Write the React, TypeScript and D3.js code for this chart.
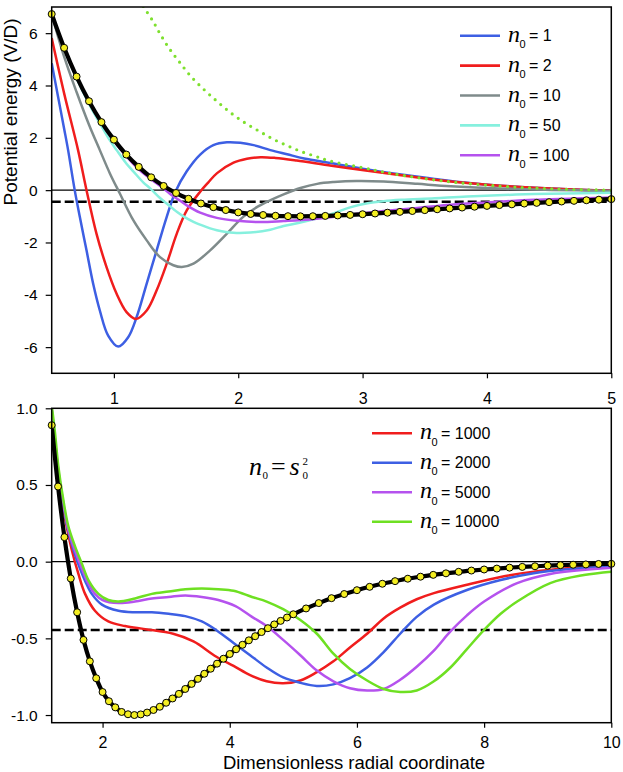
import React, { useEffect, useRef } from "react";
import * as d3 from "d3";

type Pt = [number, number];

const SANS = "Arial, 'Liberation Sans', Helvetica, sans-serif";
const SERIF = "'Times New Roman', 'Liberation Serif', serif";

// black reference curve with the yellow markers (shared by both panels)
const refCurve: Pt[] = [
  [0.5, 6.73], [0.6, 5.44], [0.7, 4.34], [0.8, 3.4], [0.9, 2.6], [1.0, 1.93],
  [1.1, 1.36], [1.2, 0.89], [1.3, 0.49], [1.4, 0.16], [1.5, -0.11], [1.6, -0.33],
  [1.7, -0.51], [1.8, -0.65], [1.9, -0.76], [2.0, -0.85], [2.1, -0.91], [2.2, -0.95],
  [2.3, -0.98], [2.4, -0.995], [2.5, -1.0], [2.6, -0.996], [2.7, -0.984], [2.8, -0.967],
  [2.9, -0.946], [3.0, -0.92], [3.1, -0.892], [3.2, -0.862], [3.3, -0.83], [3.4, -0.797],
  [3.5, -0.764], [3.6, -0.731], [3.7, -0.698], [3.8, -0.665], [3.9, -0.633], [4.0, -0.602],
  [4.1, -0.571], [4.2, -0.542], [4.3, -0.513], [4.4, -0.486], [4.5, -0.459], [4.6, -0.434],
  [4.7, -0.409], [4.8, -0.386], [4.9, -0.364], [5.0, -0.343], [5.2, -0.305], [5.4, -0.27],
  [5.6, -0.238], [5.8, -0.211], [6.0, -0.186], [6.2, -0.164], [6.4, -0.144], [6.6, -0.127],
  [6.8, -0.111], [7.0, -0.098], [7.2, -0.086], [7.4, -0.076], [7.6, -0.066], [7.8, -0.058],
  [8.0, -0.051], [8.2, -0.045], [8.4, -0.039], [8.6, -0.034], [8.8, -0.03], [9.0, -0.026],
  [9.2, -0.023], [9.4, -0.02], [9.6, -0.018], [9.8, -0.015], [10.0, -0.014],
];

const dashedLevel = -0.445;

// upper panel
const upperN0 = ["1", "2", "10", "50", "100"];
const upperColors = ["#3d5fe3", "#f01d1d", "#7f8b8b", "#86f0de", "#b552ee"];

const upperN1: Pt[] = [
  [0.5, 4.85], [0.55, 3.6], [0.6, 2.35], [0.632, 1.53], [0.685, 0.0], [0.726, -1.02],
  [0.78, -2.3], [0.833, -3.57], [0.887, -4.6], [0.954, -5.56], [1.035, -5.98], [1.115, -5.62],
  [1.183, -4.85], [1.264, -3.57], [1.344, -2.3], [1.425, -1.02], [1.495, -0.06], [1.586, 0.72],
  [1.694, 1.36], [1.8, 1.72], [1.909, 1.83], [2.016, 1.81], [2.124, 1.72], [2.258, 1.53],
  [2.393, 1.37], [2.53, 1.21], [2.75, 1.03], [3.0, 0.82], [3.31, 0.6], [3.58, 0.43],
  [3.84, 0.28], [4.11, 0.17], [4.38, 0.09], [4.65, 0.03], [5.0, -0.02],
];
const upperN2: Pt[] = [
  [0.5, 5.81], [0.6, 3.7], [0.712, 1.53], [0.78, 0.0], [0.86, -1.66], [0.941, -2.94],
  [1.022, -3.96], [1.102, -4.66], [1.177, -4.92], [1.264, -4.6], [1.344, -3.83], [1.425, -2.81],
  [1.506, -1.66], [1.586, -0.77], [1.694, -0.06], [1.76, 0.3], [1.83, 0.65], [1.962, 1.05],
  [2.07, 1.2], [2.18, 1.26], [2.3, 1.23], [2.47, 1.13], [2.75, 0.93], [3.04, 0.74],
  [3.31, 0.57], [3.58, 0.4], [3.84, 0.27], [4.11, 0.17], [4.38, 0.09], [4.65, 0.03], [5.0, -0.02],
];
const upperN10: Pt[] = [
  [0.5, 6.72], [0.6, 5.1], [0.7, 3.75], [0.8, 2.5], [0.887, 1.53], [0.968, 0.64],
  [1.048, -0.13], [1.156, -1.15], [1.264, -1.92], [1.371, -2.56], [1.478, -2.87], [1.546, -2.94],
  [1.64, -2.81], [1.774, -2.3], [1.909, -1.66], [2.04, -1.02], [2.16, -0.62], [2.26, -0.38],
  [2.365, -0.16], [2.5, 0.08], [2.635, 0.24], [2.77, 0.31], [2.95, 0.35], [3.17, 0.33],
  [3.44, 0.24], [3.71, 0.15], [4.11, 0.06], [4.52, 0.01], [5.0, -0.03],
];
const upperN50: Pt[] = [
  [0.5, 6.73], [0.6, 5.4], [0.7, 4.27], [0.8, 3.3], [0.9, 2.45], [0.968, 1.9],
  [1.022, 1.53], [1.1, 1.02], [1.156, 0.72], [1.236, 0.3], [1.29, 0.08], [1.371, -0.3],
  [1.425, -0.51], [1.506, -0.83], [1.559, -1.0], [1.64, -1.21], [1.694, -1.32], [1.774, -1.46],
  [1.828, -1.53], [1.962, -1.63], [2.097, -1.62], [2.258, -1.51], [2.365, -1.37], [2.5, -1.24],
  [2.635, -1.08], [2.77, -0.88], [2.9, -0.66], [3.04, -0.5], [3.17, -0.42], [3.31, -0.37],
  [3.58, -0.31], [3.84, -0.24], [4.38, -0.15], [5.0, -0.1],
];
const upperN100: Pt[] = [
  [0.5, 6.73], [0.6, 5.43], [0.7, 4.32], [0.8, 3.37], [0.9, 2.56], [1.0, 1.88],
  [1.1, 1.3], [1.2, 0.8], [1.3, 0.42], [1.4, 0.06], [1.45, -0.14], [1.5, -0.3],
  [1.586, -0.58], [1.694, -0.86], [1.828, -1.06], [1.99, -1.17], [2.177, -1.22], [2.365, -1.18],
  [2.58, -1.12], [2.74, -1.04], [2.9, -0.94], [3.17, -0.8], [3.44, -0.68], [3.71, -0.56],
  [4.0, -0.47], [4.38, -0.37], [5.0, -0.28],
];
// green dotted curve
const upperDotted: Pt[] = [
  [1.236, 7.02], [1.309, 6.5], [1.371, 5.98], [1.446, 5.41], [1.527, 4.9], [1.621, 4.34],
  [1.728, 3.83], [1.833, 3.38], [1.944, 2.94], [2.062, 2.55], [2.177, 2.23], [2.285, 1.94],
  [2.4, 1.69], [2.51, 1.47], [2.63, 1.28], [2.74, 1.11], [3.0, 0.86], [3.17, 0.69],
  [3.44, 0.48], [3.76, 0.29], [4.11, 0.15], [4.38, 0.08], [4.65, 0.03], [5.0, 0.0],
];

// lower panel
const lowerN0 = ["1000", "2000", "5000", "10000"];
const lowerColors = ["#f01d1d", "#3d5fe3", "#b552ee", "#6ee022"];

const lowerN1000: Pt[] = [
  [1.2, 0.98], [1.25, 0.78], [1.3, 0.58], [1.36, 0.4], [1.44, 0.22], [1.52, 0.07],
  [1.62, -0.08], [1.725, -0.21], [1.88, -0.32], [2.09, -0.39], [2.355, -0.42], [2.67, -0.44],
  [3.11, -0.47], [3.43, -0.52], [3.79, -0.62], [4.06, -0.68], [4.32, -0.74], [4.58, -0.78],
  [4.84, -0.793], [5.11, -0.775], [5.37, -0.72], [5.63, -0.65], [5.89, -0.56], [6.16, -0.47],
  [6.42, -0.37], [6.68, -0.3], [6.94, -0.245], [7.21, -0.205], [7.73, -0.15], [8.26, -0.1],
  [8.78, -0.065], [9.31, -0.043], [10.0, -0.026],
];
const lowerN2000: Pt[] = [
  [1.2, 0.99], [1.25, 0.79], [1.3, 0.6], [1.37, 0.4], [1.45, 0.22], [1.54, 0.08],
  [1.64, -0.04], [1.73, -0.13], [1.83, -0.21], [1.99, -0.28], [2.25, -0.32], [2.51, -0.33],
  [2.775, -0.33], [3.04, -0.34], [3.3, -0.355], [3.56, -0.39], [3.8, -0.45], [4.06, -0.53],
  [4.32, -0.61], [4.58, -0.69], [4.84, -0.755], [5.11, -0.79], [5.37, -0.81], [5.63, -0.8],
  [5.89, -0.76], [6.16, -0.69], [6.42, -0.59], [6.68, -0.47], [6.94, -0.36], [7.21, -0.28],
  [7.73, -0.185], [8.26, -0.12], [8.78, -0.076], [9.31, -0.05], [10.0, -0.028],
];
const lowerN5000: Pt[] = [
  [1.2, 1.0], [1.25, 0.8], [1.3, 0.61], [1.375, 0.4], [1.455, 0.22], [1.55, 0.09],
  [1.66, -0.03], [1.76, -0.13], [1.88, -0.21], [2.0, -0.25], [2.25, -0.27], [2.51, -0.26],
  [2.775, -0.24], [3.04, -0.23], [3.3, -0.22], [3.56, -0.23], [3.82, -0.25], [4.09, -0.29],
  [4.35, -0.36], [4.58, -0.42], [4.84, -0.51], [5.11, -0.61], [5.37, -0.71], [5.63, -0.78],
  [5.89, -0.825], [6.16, -0.84], [6.42, -0.83], [6.68, -0.77], [6.94, -0.685], [7.21, -0.58],
  [7.47, -0.455], [7.73, -0.35], [8.0, -0.26], [8.52, -0.14], [9.04, -0.08], [10.0, -0.04],
];
const lowerN10000: Pt[] = [
  [1.2, 1.02], [1.252, 0.84], [1.305, 0.62], [1.384, 0.4], [1.462, 0.23], [1.567, 0.1],
  [1.672, -0.01], [1.777, -0.12], [1.935, -0.21], [2.09, -0.25], [2.25, -0.26], [2.51, -0.24],
  [2.775, -0.21], [3.04, -0.195], [3.3, -0.18], [3.56, -0.175], [3.82, -0.18], [4.06, -0.19],
  [4.35, -0.23], [4.58, -0.26], [4.84, -0.31], [5.11, -0.38], [5.37, -0.47], [5.63, -0.6],
  [5.89, -0.7], [6.16, -0.775], [6.42, -0.83], [6.68, -0.85], [6.94, -0.84], [7.21, -0.78],
  [7.47, -0.69], [7.73, -0.57], [8.0, -0.445], [8.26, -0.34], [8.52, -0.26], [9.04, -0.14],
  [9.57, -0.087], [10.0, -0.065],
];

const upperXTicks = [1, 2, 3, 4, 5];
const upperYTicks = [-6, -4, -2, 0, 2, 4, 6];
const lowerXTicks = [2, 4, 6, 8, 10];
const lowerYTicks = [-1, -0.5, 0, 0.5, 1];

const W = 623;
const H = 772;

const legendEntry = (g: any, x0: number, y0: number, color: string, value: string) => {
  g.append("line")
    .attr("x1", x0)
    .attr("x2", x0 + 40)
    .attr("y1", y0)
    .attr("y2", y0)
    .attr("stroke", color)
    .attr("stroke-width", 2.6);
  const tx = x0 + 48;
  g.append("text")
    .attr("x", tx)
    .attr("y", y0 + 6)
    .attr("font-family", SERIF)
    .attr("font-style", "italic")
    .attr("font-size", 24)
    .text("n");
  g.append("text")
    .attr("x", tx + 11.5)
    .attr("y", y0 + 12.5)
    .attr("font-family", SANS)
    .attr("font-size", 11)
    .text("0");
  g.append("text")
    .attr("x", tx + 21)
    .attr("y", y0 + 5.5)
    .attr("font-family", SANS)
    .attr("font-size", 16)
    .text(`= ${value}`);
};

const drawPanel = (svg: any, p: any) => {
  const { x, y, id } = p;
  const [x0, x1] = x.range();
  const [yb, yt] = y.range();

  svg
    .append("clipPath")
    .attr("id", id)
    .append("rect")
    .attr("x", x0)
    .attr("y", yt)
    .attr("width", x1 - x0)
    .attr("height", yb - yt);

  const plot = svg.append("g").attr("clip-path", `url(#${id})`);

  // zero line + dashed level
  plot
    .append("line")
    .attr("x1", x0)
    .attr("x2", x1)
    .attr("y1", y(0))
    .attr("y2", y(0))
    .attr("stroke", "#000")
    .attr("stroke-width", 1.2);
  plot
    .append("line")
    .attr("x1", x0)
    .attr("x2", x1)
    .attr("y1", y(dashedLevel))
    .attr("y2", y(dashedLevel))
    .attr("stroke", "#000")
    .attr("stroke-width", 2.5)
    .attr("stroke-dasharray", "9 4");

  const line = d3
    .line<Pt>()
    .x((d) => x(d[0]))
    .y((d) => y(d[1]))
    .curve(d3.curveCatmullRom.alpha(0.5));

  p.series.forEach((s: Pt[], i: number) => {
    plot
      .append("path")
      .datum(s)
      .attr("d", line)
      .attr("fill", "none")
      .attr("stroke", p.colors[i])
      .attr("stroke-width", 2.5);
  });

  if (p.dotted) {
    plot
      .append("path")
      .datum(p.dotted)
      .attr("d", line)
      .attr("fill", "none")
      .attr("stroke", "#7ee02e")
      .attr("stroke-width", 3.2)
      .attr("stroke-linecap", "round")
      .attr("stroke-dasharray", "0 7.4");
  }

  const [d0, d1] = x.domain();
  const ref = refCurve.filter((d) => d[0] >= d0 - 1e-9 && d[0] <= d1 + 1e-9);
  plot
    .append("path")
    .datum(ref)
    .attr("d", line)
    .attr("fill", "none")
    .attr("stroke", "#000")
    .attr("stroke-width", 4.2);

  svg
    .append("g")
    .selectAll("circle")
    .data(ref)
    .join("circle")
    .attr("cx", (d: Pt) => x(d[0]))
    .attr("cy", (d: Pt) => y(d[1]))
    .attr("r", 3.5)
    .attr("fill", "#f4ee22")
    .attr("stroke", "#000")
    .attr("stroke-width", 1);

  // frame
  svg
    .append("rect")
    .attr("x", x0)
    .attr("y", yt)
    .attr("width", x1 - x0)
    .attr("height", yb - yt)
    .attr("fill", "none")
    .attr("stroke", "#000")
    .attr("stroke-width", 1.5);

  svg
    .append("g")
    .attr("transform", `translate(0,${yb})`)
    .call(
      d3
        .axisBottom(x)
        .tickValues(p.xTicks)
        .tickSize(5)
        .tickPadding(p.xPad)
        .tickFormat((d: any) => String(d)),
    )
    .call((g: any) => g.select(".domain").remove())
    .call((g: any) => g.selectAll("line").attr("stroke-width", 1.2))
    .call((g: any) =>
      g.selectAll("text").attr("font-size", 16).attr("font-family", SANS).attr("fill", "#000"),
    );

  svg
    .append("g")
    .attr("transform", `translate(${x0},0)`)
    .call(d3.axisLeft(y).tickValues(p.yTicks).tickSize(6).tickPadding(8).tickFormat(p.yFormat))
    .call((g: any) => g.select(".domain").remove())
    .call((g: any) => g.selectAll("line").attr("stroke-width", 1.2))
    .call((g: any) =>
      g.selectAll("text").attr("font-size", 15.5).attr("font-family", SANS).attr("fill", "#000"),
    );
};

const App = () => {
  const svgRef = useRef<SVGSVGElement>(null);

  useEffect(() => {
    document.body.style.margin = "0";
    const svg = d3.select(svgRef.current);
    svg.selectAll("*").remove();

    const xTop = d3.scaleLinear().domain([0.5, 5]).range([51.7, 611.3]);
    const yTop = d3.scaleLinear().domain([-7, 7]).range([373.3, 7]);
    const xBot = d3.scaleLinear().domain([1.2, 10]).range([51.7, 611.3]);
    const yBot = d3.scaleLinear().domain([-1.05, 1]).range([722.7, 408.3]);

    drawPanel(svg, {
      id: "clip-top",
      x: xTop,
      y: yTop,
      series: [upperN1, upperN2, upperN10, upperN50, upperN100],
      colors: upperColors,
      dotted: upperDotted,
      xTicks: upperXTicks,
      xPad: 14,
      yTicks: upperYTicks,
      yFormat: (d: any) => String(d),
    });

    drawPanel(svg, {
      id: "clip-bottom",
      x: xBot,
      y: yBot,
      series: [lowerN1000, lowerN2000, lowerN5000, lowerN10000],
      colors: lowerColors,
      xTicks: lowerXTicks,
      xPad: 9,
      yTicks: lowerYTicks,
      yFormat: (d: any) => (+d).toFixed(1),
    });

    const legendTop = svg.append("g");
    upperN0.forEach((v, i) => legendEntry(legendTop, 460, 35.7 + i * 29.9, upperColors[i], v));
    const legendBottom = svg.append("g");
    lowerN0.forEach((v, i) => legendEntry(legendBottom, 372, 433.3 + i * 29.5, lowerColors[i], v));

    // n0 = s0^2
    const eq = svg.append("g").attr("font-family", SERIF).attr("fill", "#000");
    eq.append("text").attr("x", 249).attr("y", 475).attr("font-size", 26).attr("font-style", "italic").text("n");
    eq.append("text").attr("x", 262.5).attr("y", 478.5).attr("font-size", 11).text("0");
    eq.append("text").attr("x", 271).attr("y", 475).attr("font-size", 26).text("=");
    eq.append("text").attr("x", 289.5).attr("y", 475).attr("font-size", 26).attr("font-style", "italic").text("s");
    eq.append("text").attr("x", 302.5).attr("y", 465).attr("font-size", 11).text("2");
    eq.append("text").attr("x", 302.5).attr("y", 478.5).attr("font-size", 11).text("0");

    // axis titles
    svg
      .append("text")
      .attr("transform", "translate(16.5,112) rotate(-90)")
      .attr("text-anchor", "middle")
      .attr("font-family", SANS)
      .attr("font-size", 19)
      .text("Potential energy (V/D)");

    svg
      .append("text")
      .attr("x", 354)
      .attr("y", 769)
      .attr("text-anchor", "middle")
      .attr("font-family", SANS)
      .attr("font-size", 18.5)
      .text("Dimensionless radial coordinate");

    return () => {
      d3.select(svgRef.current).selectAll("*").remove();
    };
  }, []);

  return (
    <svg
      ref={svgRef}
      width={W}
      height={H}
      style={{ display: "block", background: "#fff" }}
    />
  );
};

export default App;
